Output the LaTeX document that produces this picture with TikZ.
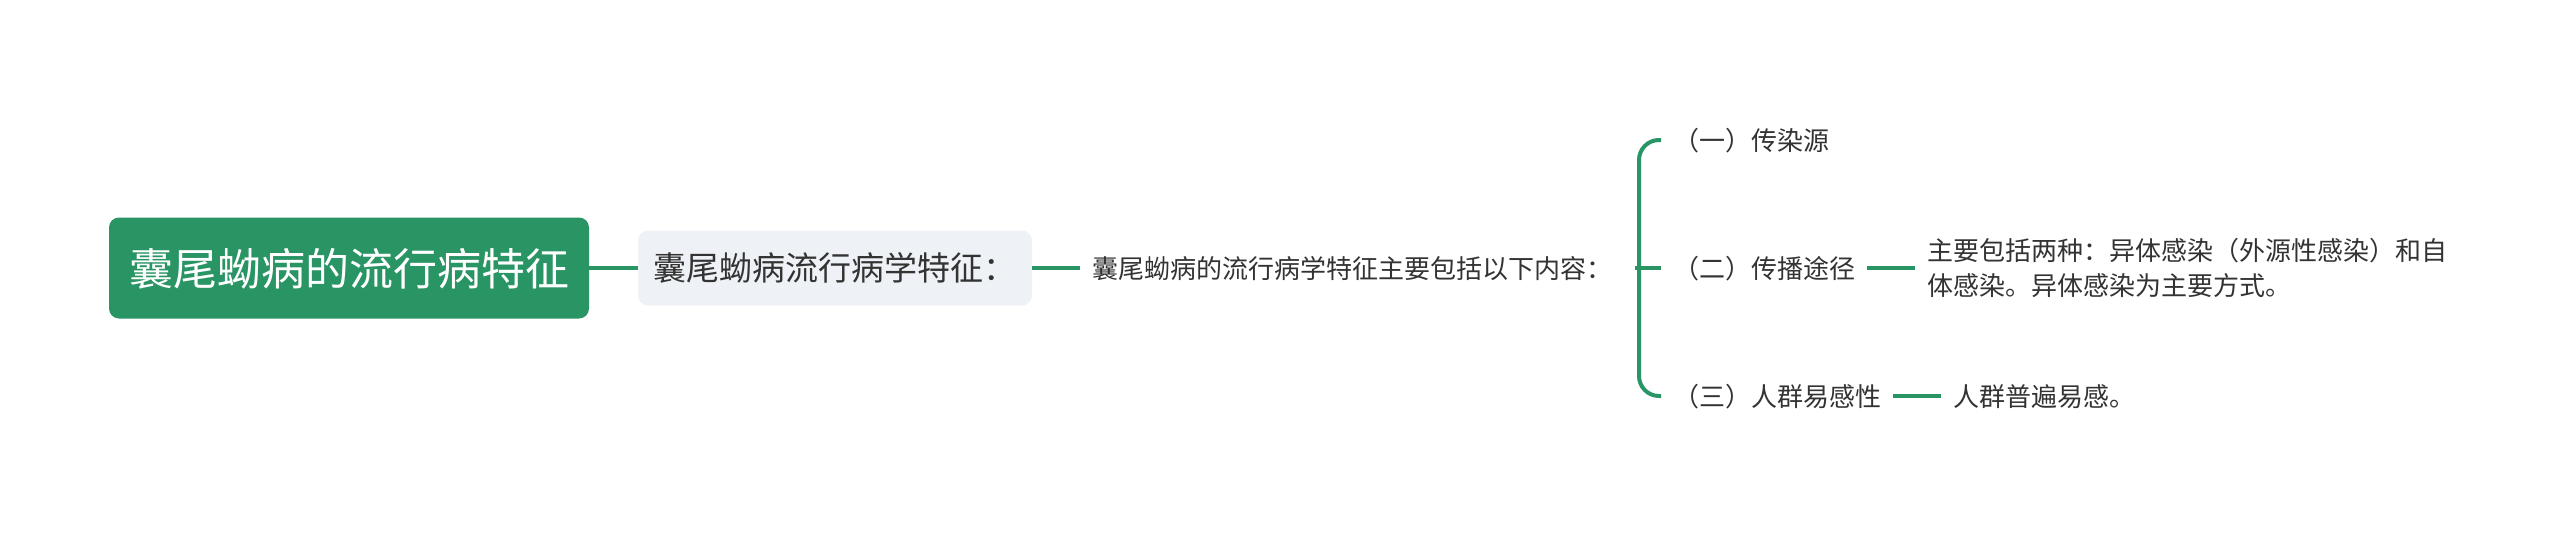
\documentclass[tikz,border=0pt]{standalone}
\usepackage{fontspec}
\setmainfont{Noto Sans CJK SC}
\definecolor{mapgreen}{RGB}{41,148,100}
\definecolor{subgray}{RGB}{238,241,245}
\definecolor{inkdark}{RGB}{51,51,51}
\begin{document}
\begin{tikzpicture}[x=1pt,y=-1pt,
    rootbox/.style={fill=mapgreen, rounded corners=10pt, text=white,
      font=\fontsize{44}{52}\selectfont, minimum width=480pt, minimum height=101pt,
      text height=39pt, text depth=5pt},
    subbox/.style={fill=subgray, rounded corners=10pt, text=inkdark,
      font=\fontsize{33}{40}\selectfont, minimum width=394pt, minimum height=75pt,
      text height=29pt, text depth=4pt},
    leaf/.style={text=inkdark, font=\fontsize{26}{35}\selectfont, anchor=west,
      inner xsep=12pt, inner ysep=0pt, text height=23pt, text depth=3pt, align=left},
    link/.style={draw=mapgreen, line width=4pt}]
  \useasboundingbox (0,0) rectangle (2560,536);

  \node [rootbox] (root) at (349,268) {囊尾蚴病的流行病特征};
  \node [subbox] (feat) at (835,268) {囊尾蚴病流行病学特征：};
  \node [leaf] (main) at (1080,268) {囊尾蚴病的流行病学特征主要包括以下内容：};
  \coordinate (hub) at (1639,268);

  \node [leaf] (src) at (1661,140) {（一）传染源};
  \node [leaf] (route) at (1661,268) {（二）传播途径};
  \node [leaf] (host) at (1661,396) {（三）人群易感性};

  \node [leaf, text height=58pt] (routetxt) at (1915,268) {主要包括两种：异体感染（外源性感染）和自\\体感染。异体感染为主要方式。};
  \node [leaf] (hosttxt) at (1941,396) {人群普遍易感。};

  \draw [link] (root.east) -- (feat.west);
  \draw [link] (feat.east) -- (main.west);
  \draw [link, shorten <=11pt] (main.east) -- (route.west);
  \draw [link, rounded corners=20pt] (src.west) -| (hub) |- (host.west);
  \draw [link] (route.east) -- (routetxt.west);
  \draw [link] (host.east) -- (hosttxt.west);
\end{tikzpicture}
\end{document}
